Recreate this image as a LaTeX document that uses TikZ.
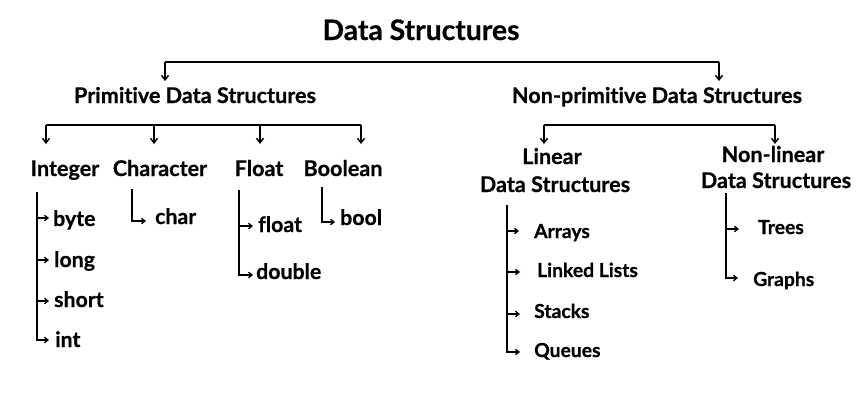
\documentclass[tikz,border=0pt]{standalone}
\usepackage{fontspec}
\setmainfont{Lato}[Ligatures={NoCommon},BoldFeatures={FakeBold=0.6}]
\usetikzlibrary{arrows.meta,calc}
\begin{document}
\begin{tikzpicture}[x=1pt,y=-1pt,
  lbl/.style={inner sep=0pt,anchor=base,font=\bfseries\fontsize{21.6}{24}\selectfont},
  titlelbl/.style={inner sep=0pt,anchor=base,font=\bfseries\fontsize{28.3}{30}\selectfont},
  leaf/.style={inner sep=0pt,anchor=base west,font=\bfseries\fontsize{21.3}{23}\selectfont},
  sleaf/.style={inner sep=0pt,anchor=base west,font=\bfseries\fontsize{19.3}{21}\selectfont},
  ln/.style={line width=1.5pt},
  tln/.style={line width=1.2pt},
  arr/.style={line width=1.5pt,-{Straight Barb[length=4.5pt,width=7pt]}},
  larr/.style={line width=1.3pt,-{Straight Barb[length=3.5pt,width=5.5pt]}}]
\useasboundingbox (0,0) rectangle (865,407);
\fill[white] (0,0) rectangle (865,407);
% labels
\node[titlelbl] (ds) at (421,40) {Data Structures};
\node[lbl] (prim) at (195,103) {Primitive Data Structures};
\node[lbl] (nprim) at (657,103) {Non-primitive Data Structures};
\node[lbl] (integer) at (65,176) {Integer};
\node[lbl] (character) at (160,176) {Character};
\node[lbl] (float) at (259,176) {Float};
\node[lbl] (boolean) at (343,176) {Boolean};
\node[lbl] (linA) at (552,164) {Linear};
\node[lbl] (linB) at (555,192) {Data Structures};
\node[lbl] (nlinA) at (773,162) {Non-linear};
\node[lbl] (nlinB) at (776,188) {Data Structures};
% leaves
\node[leaf] (byte) at (53,226) {byte};
\node[leaf] (long) at (54,267) {long};
\node[leaf] (short) at (54,307) {short};
\node[leaf] (int) at (55,347) {int};
\node[leaf] (char) at (155,224) {char};
\node[leaf] (fl) at (258,232) {float};
\node[leaf] (double) at (256,279) {double};
\node[leaf] (bool) at (340,225) {bool};
\node[sleaf] (arrays) at (534,238) {Arrays};
\node[sleaf] (linked) at (537,277) {Linked Lists};
\node[sleaf] (stacks) at (534,318) {Stacks};
\node[sleaf] (queues) at (534,357) {Queues};
\node[sleaf] (trees) at (758,234) {Trees};
\node[sleaf] (graphs) at (753,286) {Graphs};
% top bracket
\coordinate (tL) at (165,62);
\coordinate (tR) at (719,62);
\coordinate (tLe) at (165,81);
\coordinate (tRe) at (719,81);
\draw[tln] (tL) -- (tR);
\draw[arr] (tL) -- (tLe);
\draw[arr] (tR) -- (tRe);
% primitive bracket
\coordinate (p1) at (46,125);
\coordinate (p2) at (154,125);
\coordinate (p3) at (260,125);
\coordinate (p4) at (361,125);
\coordinate (p1e) at (46,144);
\coordinate (p2e) at (154,144);
\coordinate (p3e) at (260,144);
\coordinate (p4e) at (361,144);
\draw[ln] (p1) -- (p4);
\draw[arr] (p1) -- (p1e);
\draw[arr] (p2) -- (p2e);
\draw[arr] (p3) -- (p3e);
\draw[arr] (p4) -- (p4e);
% non-primitive bracket
\coordinate (n1) at (544,125);
\coordinate (n2) at (775,125);
\coordinate (n1e) at (544,144);
\coordinate (n2e) at (775,144);
\draw[ln] (n1) -- (n2);
\draw[arr] (n1) -- (n1e);
\draw[arr] (n2) -- (n2e);
% integer leaves
\coordinate (iv) at (37,192);
\coordinate (byteT) at (49,218);
\coordinate (longT) at (49,260);
\coordinate (shortT) at (49,301);
\coordinate (intT) at (49,340);
\draw[larr] (iv) |- (byteT);
\draw[larr] (iv) |- (longT);
\draw[larr] (iv) |- (shortT);
\draw[larr] (iv) |- (intT);
% character
\coordinate (cv) at (132,189);
\coordinate (charT) at (146,221);
\draw[larr] (cv) |- (charT);
% float
\coordinate (fv) at (239,190);
\coordinate (floatT) at (253,226);
\coordinate (doubleT) at (253,275);
\draw[larr] (fv) |- (floatT);
\draw[larr] (fv) |- (doubleT);
% boolean
\coordinate (bv) at (322,187);
\coordinate (boolT) at (335,222);
\draw[larr] (bv) |- (boolT);
% linear
\coordinate (lv) at (507,205);
\coordinate (arraysT) at (519,231);
\coordinate (linkedT) at (520,272);
\coordinate (stacksT) at (520,314);
\coordinate (queuesT) at (520,352);
\draw[larr] (lv) |- (arraysT);
\draw[larr] (lv) |- (linkedT);
\draw[larr] (lv) |- (stacksT);
\draw[larr] (lv) |- (queuesT);
% non-linear
\coordinate (nv) at (726,193);
\coordinate (treesT) at (739,229);
\coordinate (graphsT) at (738,278);
\draw[larr] (nv) |- (treesT);
\draw[larr] (nv) |- (graphsT);
\end{tikzpicture}
\end{document}
